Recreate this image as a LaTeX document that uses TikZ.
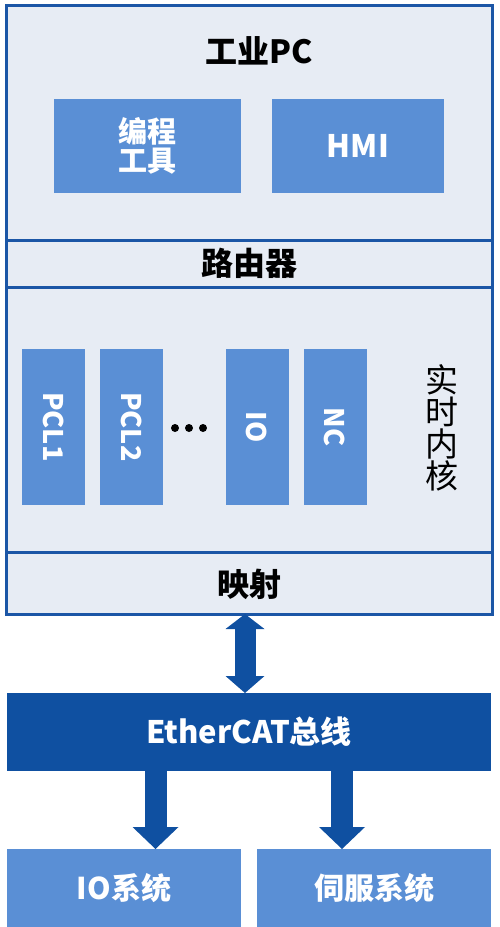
\documentclass[tikz,border=0pt]{standalone}
\usepackage{fontspec}
\setmainfont{Noto Sans CJK SC}
\usetikzlibrary{arrows.meta}
\definecolor{bglight}{HTML}{E7ECF4}
\definecolor{midblue}{HTML}{5A8FD5}
\definecolor{darkblue}{HTML}{0F50A1}
\definecolor{frameblue}{HTML}{1B56A6}
\newcommand{\fsz}[1]{\fontsize{#1}{#1}\selectfont}
\begin{document}
\begin{tikzpicture}[x=1pt,y=-1pt,
  section/.style={draw=frameblue, line width=3pt, fill=bglight, inner sep=0pt, outer sep=0pt, anchor=north west},
  bluebox/.style={fill=midblue, text=white, inner sep=0pt, outer sep=0pt, font=\bfseries\fsz{29}, align=center},
  vbox/.style={bluebox, rotate=-90, minimum width=156pt, minimum height=63pt, font=\bfseries\fsz{27}},
  label/.style={inner sep=0pt, font=\bfseries\fsz{32}, text=black},
  bigarrow/.style={draw=darkblue, line width=21pt},
  dot/.style={circle, fill=black, inner sep=0pt, minimum size=8pt}
]
\useasboundingbox (0,0) rectangle (500,927);
% stacked sections of the industrial PC
\node[section, minimum width=486pt, minimum height=235pt] (pc) at (6,5) {};
\node[section, minimum width=486pt, minimum height=47pt] (router) at (6,240) {};
\node[section, minimum width=486pt, minimum height=265pt] (kernel) at (6,287) {};
\node[section, minimum width=486pt, minimum height=62pt] (mapping) at (6,552) {};
% labels
\node[label] (title) at (259,51) {工业PC};
\node[label] (routerlbl) at (router.center) {路由器};
\node[label] (maplbl) at ([yshift=-1pt]mapping.center) {映射};
\node[inner sep=0pt, font=\fsz{33}, align=center, text=black] (rtk) at (442,428) {实\\[-1pt]时\\[-1pt]内\\[-1pt]核};
% PC boxes
\node[bluebox, anchor=north west, minimum width=187pt, minimum height=94pt] (tool) at (54,99) {编程\\工具};
\node[bluebox, anchor=north west, minimum width=172pt, minimum height=94pt, font=\bfseries\fsz{31}] (hmi) at (272,99) {HMI};
% kernel boxes
\node[vbox] (pcl1) at (53.5,427) {PCL1};
\node[vbox] (pcl2) at (131.5,427) {PCL2};
\node[vbox] (io) at (257,427) {IO};
\node[vbox] (nc) at (335,427) {NC};
\node[dot] (d1) at (175,428) {};
\node[dot] (d2) at (189,428) {};
\node[dot] (d3) at (203,428) {};
% bus
\node[fill=darkblue, text=white, inner sep=0pt, outer sep=0pt, anchor=north west, minimum width=484pt, minimum height=78pt, font=\bfseries\fsz{31}] (bus) at (7,693) {EtherCAT总线};
% bottom systems
\node[bluebox, anchor=north west, minimum width=234pt, minimum height=78pt, font=\bfseries\fsz{30}] (iosys) at (7,849) {IO系统};
\node[bluebox, anchor=north west, minimum width=234pt, minimum height=78pt, font=\bfseries\fsz{30}] (servo) at (257,849) {伺服系统};
% arrows
\draw[bigarrow, {Triangle[width=39pt,length=15pt,line width=0pt]}-{Triangle[width=39pt,length=17pt,line width=0pt]}]
  ([xshift=-4pt]mapping.south) -- ([xshift=-4pt]bus.north);
\draw[bigarrow, line width=22pt, -{Triangle[width=46pt,length=22pt,line width=0pt]}]
  ([xshift=-93.5pt]bus.south) -- ([xshift=31.5pt]iosys.north);
\draw[bigarrow, line width=22pt, -{Triangle[width=46pt,length=22pt,line width=0pt]}]
  ([xshift=93pt]bus.south) -- ([xshift=-32pt]servo.north);
\end{tikzpicture}
\end{document}
